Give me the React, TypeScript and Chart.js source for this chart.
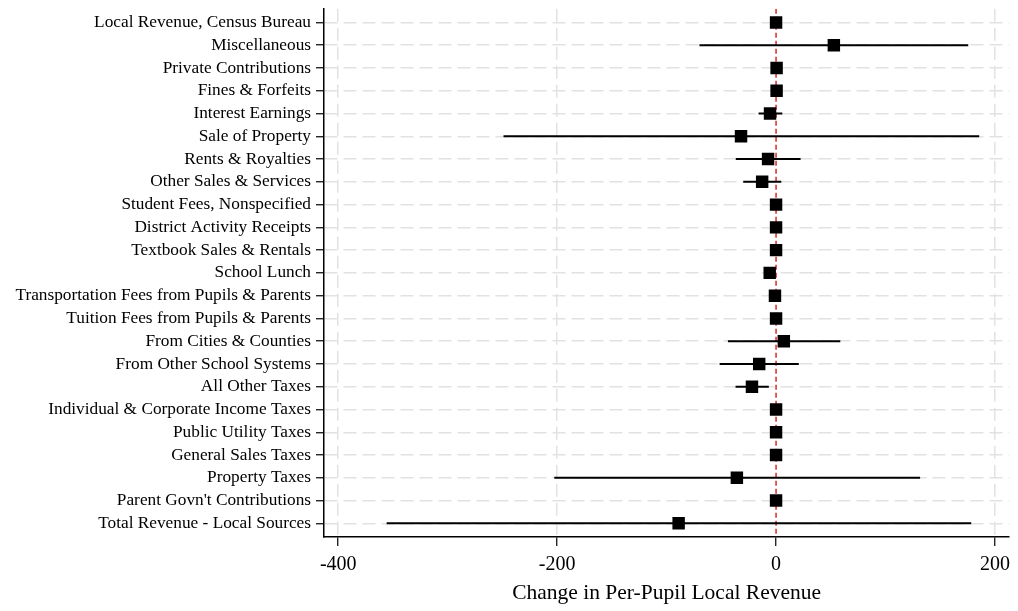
import React, { useEffect, useRef } from 'react';
import { Chart, registerables } from 'chart.js';

Chart.register(...registerables);

const categories: string[] = [
  'Local Revenue, Census Bureau',
  'Miscellaneous',
  'Private Contributions',
  'Fines & Forfeits',
  'Interest Earnings',
  'Sale of Property',
  'Rents & Royalties',
  'Other Sales & Services',
  'Student Fees, Nonspecified',
  'District Activity Receipts',
  'Textbook Sales & Rentals',
  'School Lunch',
  'Transportation Fees from Pupils & Parents',
  'Tuition Fees from Pupils & Parents',
  'From Cities & Counties',
  'From Other School Systems',
  'All Other Taxes',
  'Individual & Corporate Income Taxes',
  'Public Utility Taxes',
  'General Sales Taxes',
  'Property Taxes',
  "Parent Govn't Contributions",
  'Total Revenue - Local Sources',
];

const estimates: number[] = [
  0, 52.8, 0.5, 0.5, -5.5, -32, -7.3, -12.7, 0, 0, 0, -5.8, -1, 0,
  7.1, -15.4, -22, 0, 0, 0, -35.8, 0, -89,
];

const lowerCI: number[] = [
  -2, -70, -2, -2, -16, -249, -36.8, -30, -2, -2, -2, -8, -3, -2,
  -44, -51.6, -37, -2, -2, -2, -202.6, -2, -355.8,
];

const upperCI: number[] = [
  2, 175.6, 3, 3, 5.7, 185.6, 22.4, 4.8, 2, 2, 2, -3, 1, 2,
  58.7, 20.8, -6.6, 2, 2, 2, 131.6, 2, 178.3,
];

const xTickValues: number[] = [-400, -200, 0, 200];

const X_MIN = -413;
const X_MAX = 213;
const Y_MIN = -0.6;
const Y_MAX = 22.6;

const FONT = "'Liberation Serif', 'DejaVu Serif', serif";

export default function App() {
  const canvasRef = useRef<HTMLCanvasElement | null>(null);

  useEffect(() => {
    const canvas = canvasRef.current;
    if (!canvas) return;

    const points = estimates.map((v, i) => ({ x: v, y: i }));
    const bars: { x: number; y: number }[] = [];
    lowerCI.forEach((lo, i) => {
      bars.push({ x: lo, y: i });
      bars.push({ x: upperCI[i], y: i });
      bars.push({ x: NaN, y: NaN });
    });
    const zeroLine = [
      { x: 0, y: Y_MIN },
      { x: 0, y: Y_MAX },
    ];

    const chart = new Chart(canvas, {
      type: 'scatter',
      data: {
        datasets: [
          {
            label: 'Estimate',
            data: points,
            pointStyle: 'rect',
            pointRadius: 8.8,
            pointHoverRadius: 8.8,
            backgroundColor: '#000000',
            borderColor: '#000000',
            borderWidth: 0,
            showLine: false,
          },
          {
            label: 'CI',
            data: bars,
            showLine: true,
            spanGaps: false,
            pointRadius: 0,
            borderColor: '#000000',
            borderWidth: 2,
          },
          {
            label: 'Zero',
            data: zeroLine,
            showLine: true,
            pointRadius: 0,
            borderColor: '#d42a2a',
            borderWidth: 1.5,
            borderDash: [5, 3],
          },
        ],
      },
      options: {
        responsive: false,
        animation: false,
        events: [],
        layout: { padding: { top: 7, right: 7, left: 0, bottom: 0 } },
        plugins: {
          legend: { display: false },
          tooltip: { enabled: false },
          title: { display: false },
        },
        scales: {
          x: {
            type: 'linear',
            min: X_MIN,
            max: X_MAX,
            afterBuildTicks: (scale: any) => {
              scale.ticks = xTickValues.map((v) => ({ value: v }));
            },
            afterFit: (scale: any) => {
              scale.height = 74;
              scale.paddingLeft = 0;
              scale.paddingRight = 0;
            },
            ticks: {
              color: '#000000',
              font: { family: FONT, size: 20 },
              padding: 7,
              maxRotation: 0,
              autoSkip: false,
            },
            grid: {
              color: (ctx: any) =>
                ctx.tick && ctx.tick.value === 0 ? 'rgba(0,0,0,0)' : '#e2e2e2',
              lineWidth: 1.5,
              drawTicks: true,
              tickLength: 9,
              tickColor: '#000000',
              tickWidth: 1.2,
              tickBorderDash: [],
            },
            border: {
              display: true,
              color: '#000000',
              width: 1.5,
              dash: [13, 6],
            },
            title: {
              display: true,
              text: 'Change in Per-Pupil Local Revenue',
              color: '#000000',
              font: { family: FONT, size: 21.5 },
              padding: { top: 0, bottom: 5 },
            },
          },
          y: {
            type: 'linear',
            reverse: true,
            min: Y_MIN,
            max: Y_MAX,
            afterBuildTicks: (scale: any) => {
              scale.ticks = categories.map((_, i) => ({ value: i }));
            },
            afterFit: (scale: any) => {
              scale.width = 324;
              scale.paddingTop = 0;
              scale.paddingBottom = 0;
            },
            ticks: {
              color: '#000000',
              font: { family: FONT, size: 17.3 },
              padding: 5,
              autoSkip: false,
              callback: (value: any) => categories[Number(value)] ?? '',
            },
            grid: {
              color: '#e2e2e2',
              lineWidth: 1.5,
              drawTicks: true,
              tickLength: 8,
              tickColor: '#000000',
              tickWidth: 1.2,
              tickBorderDash: [],
            },
            border: {
              display: true,
              color: '#000000',
              width: 1.5,
              dash: [13, 6],
            },
          },
        },
      },
    });

    return () => {
      chart.destroy();
    };
  }, []);

  return (
    <div
      style={{
        position: 'absolute',
        left: 0,
        top: 0,
        width: 1018,
        height: 611,
        background: '#ffffff',
      }}
    >
      <canvas ref={canvasRef} width={1018} height={611} />
    </div>
  );
}
